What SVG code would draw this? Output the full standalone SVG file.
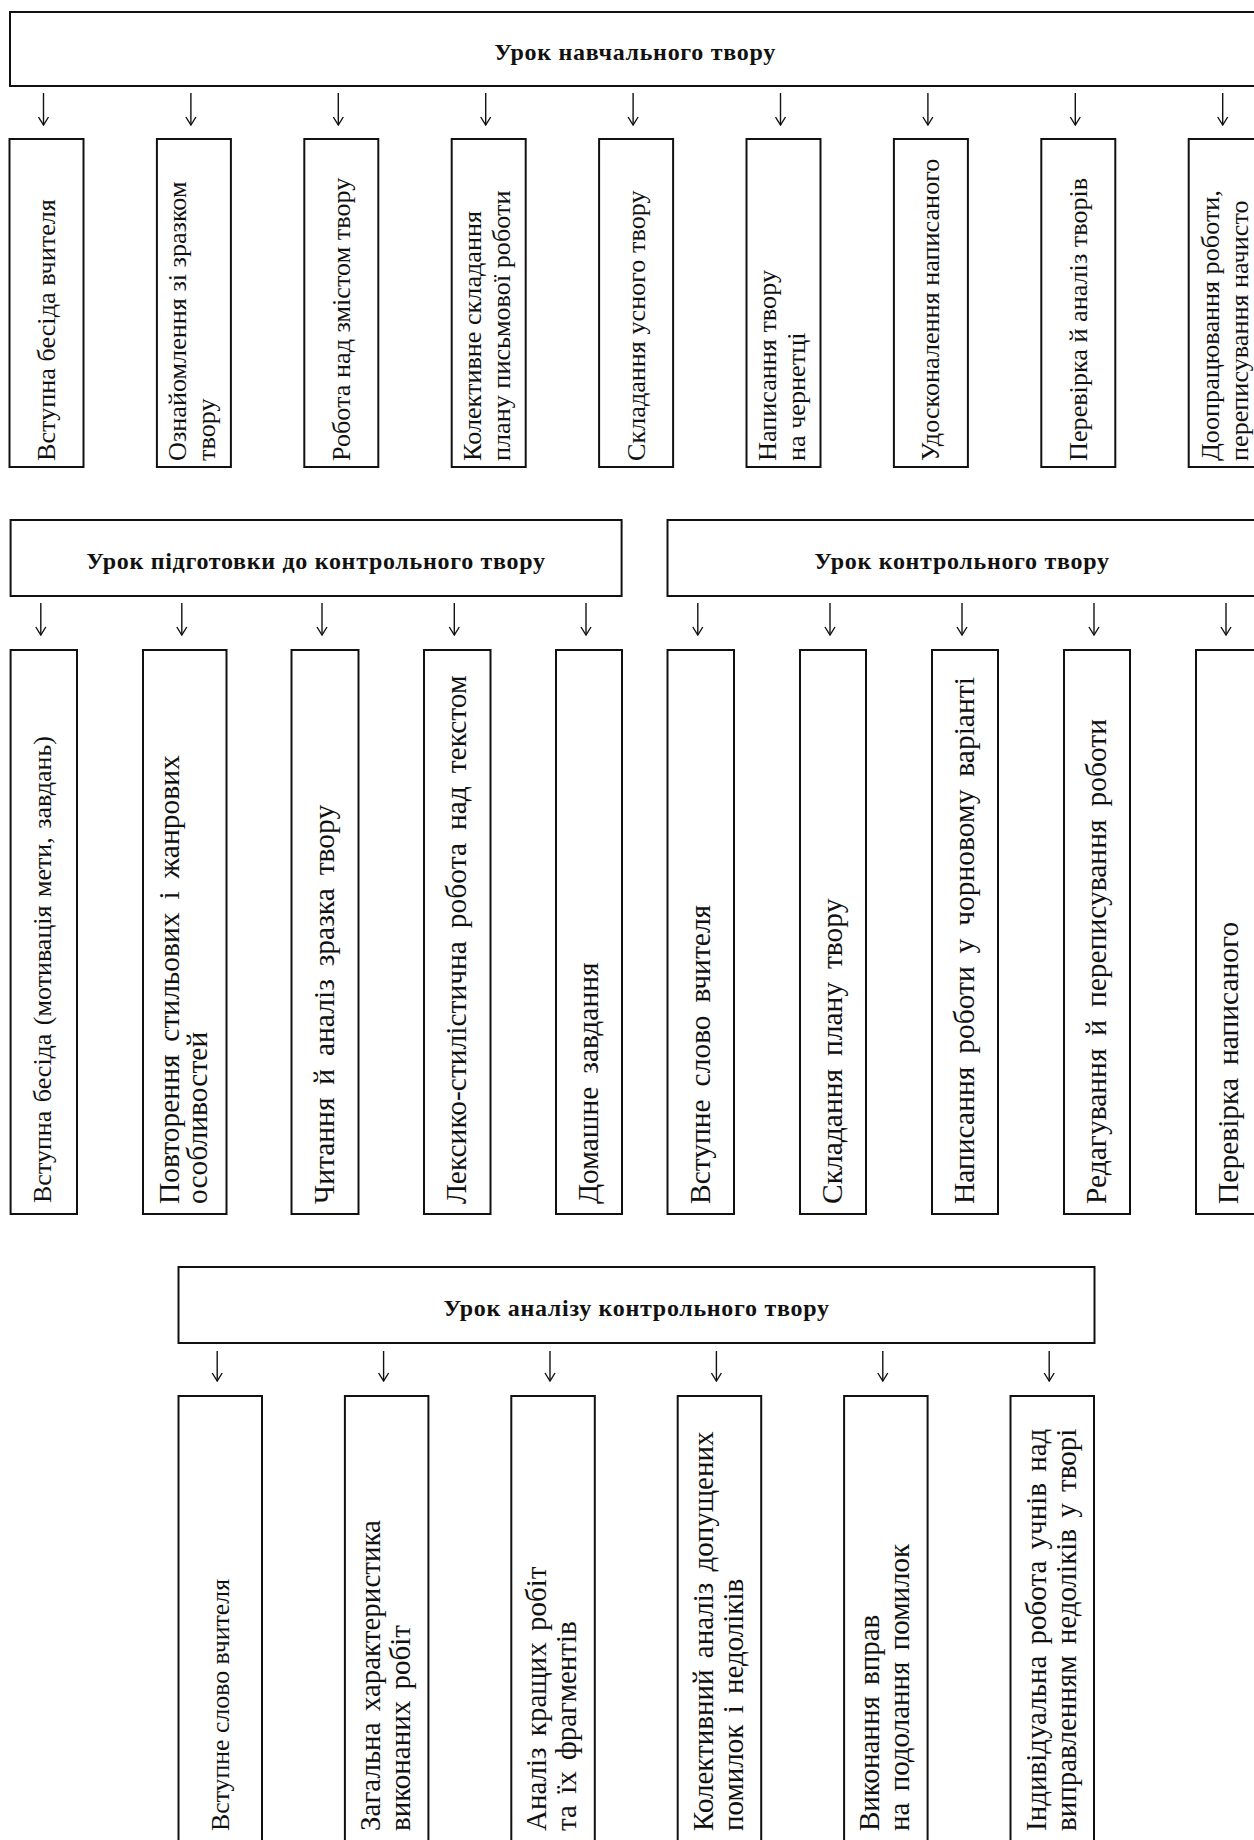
<svg xmlns="http://www.w3.org/2000/svg" width="1254" height="1840" viewBox="0 0 1254 1840">
<style>
.bg{fill:#fff}
.box{fill:#fff;stroke:#111;stroke-width:2}
.arr{stroke:#111;stroke-width:1.4;fill:none}
text{font-family:"Liberation Serif","Times New Roman",serif;fill:#111}
.hd{font-weight:bold;font-size:24px;letter-spacing:0.7px;text-anchor:middle}
.t1{font-size:26.2px}
.t2{font-size:29.5px;word-spacing:5.5px}
.t3{font-size:29px;word-spacing:4px}
.t0{font-size:26px;word-spacing:2px}
.ts{font-size:25.8px}
</style>
<defs>
<marker id="ah" viewBox="-1 -6 10 12" refX="8" refY="0" markerWidth="10" markerHeight="12" markerUnits="userSpaceOnUse" orient="auto">
<path d="M0,-5 L8,0 L0,5" fill="none" stroke="#111" stroke-width="1.4"/>
</marker>
</defs>
<rect class="bg" x="0" y="0" width="1254" height="1840"/>

<!-- Section 1 -->
<g id="h1"><rect class="box" x="10" y="12" width="1250" height="74"/><text class="hd" x="635" y="59.5">Урок навчального твору</text></g>
<g id="n1_1"><rect class="box" x="9.5" y="139" width="74" height="328"/><text class="t1" transform="translate(55,461) rotate(-90)">Вступна бесіда вчителя</text></g>
<g id="n1_2"><rect class="box" x="156.9" y="139" width="74" height="328"/><text class="t1" transform="translate(186.4,461) rotate(-90)"><tspan x="0" y="0">Ознайомлення зі зразком</tspan><tspan x="0" y="28.5">твору</tspan></text></g>
<g id="n1_3"><rect class="box" x="304.3" y="139" width="74" height="328"/><text class="t1" transform="translate(349.8,461) rotate(-90)">Робота над змістом твору</text></g>
<g id="n1_4"><rect class="box" x="451.7" y="139" width="74" height="328"/><text class="t1" transform="translate(481.2,461) rotate(-90)"><tspan x="0" y="0">Колективне складання</tspan><tspan x="0" y="28.5">плану письмової роботи</tspan></text></g>
<g id="n1_5"><rect class="box" x="599.1" y="139" width="74" height="328"/><text class="t1" transform="translate(644.6,461) rotate(-90)">Складання усного твору</text></g>
<g id="n1_6"><rect class="box" x="746.5" y="139" width="74" height="328"/><text class="t1" transform="translate(776,461) rotate(-90)"><tspan x="0" y="0">Написання твору</tspan><tspan x="0" y="28.5">на чернетці</tspan></text></g>
<g id="n1_7"><rect class="box" x="893.9" y="139" width="74" height="328"/><text class="t1" transform="translate(939.4,461) rotate(-90)">Удосконалення написаного</text></g>
<g id="n1_8"><rect class="box" x="1041.3" y="139" width="74" height="328"/><text class="t1" transform="translate(1086.8,461) rotate(-90)">Перевірка й аналіз творів</text></g>
<g id="n1_9"><rect class="box" x="1188.7" y="139" width="74" height="328"/><text class="t1" transform="translate(1219.2,461) rotate(-90)"><tspan x="0" y="0">Доопрацювання роботи,</tspan><tspan x="0" y="28.5">переписування начисто</tspan></text></g>

<!-- Section 2 -->
<g id="h2a"><rect class="box" x="10.6" y="520" width="611" height="76"/><text class="hd" x="316" y="568.5">Урок підготовки до контрольного твору</text></g>
<g id="h2b"><rect class="box" x="667.5" y="520" width="592" height="76"/><text class="hd" x="962" y="568.5">Урок контрольного твору</text></g>
<g id="n2_1"><rect class="box" x="10.6" y="650" width="66.4" height="564"/><text class="t0" transform="translate(50.5,1203) rotate(-90)">Вступна бесіда (мотивація мети, завдань)</text></g>
<g id="n2_2"><rect class="box" x="143" y="650" width="83.5" height="564"/><text class="t2" transform="translate(178.5,1204) rotate(-90)"><tspan x="0" y="0">Повторення стильових і жанрових</tspan><tspan x="0" y="28.5">особливостей</tspan></text></g>
<g id="n2_3"><rect class="box" x="291.5" y="650" width="67" height="564"/><text class="t2" transform="translate(333.5,1204) rotate(-90)">Читання й аналіз зразка твору</text></g>
<g id="n2_4"><rect class="box" x="424" y="650" width="66.5" height="564"/><text class="t2" transform="translate(466,1204) rotate(-90)">Лексико-стилістична робота над текстом</text></g>
<g id="n2_5"><rect class="box" x="556" y="650" width="66" height="564"/><text class="t2" transform="translate(598,1204) rotate(-90)">Домашне завдання</text></g>
<g id="n2_6"><rect class="box" x="667.5" y="650" width="66.5" height="564"/><text class="t2" transform="translate(710,1204) rotate(-90)">Вступне слово вчителя</text></g>
<g id="n2_7"><rect class="box" x="800" y="650" width="66" height="564"/><text class="t2" transform="translate(842,1204) rotate(-90)">Складання плану твору</text></g>
<g id="n2_8"><rect class="box" x="932" y="650" width="66" height="564"/><text class="t2" transform="translate(974,1204) rotate(-90)">Написання роботи у чорновому варіанті</text></g>
<g id="n2_9"><rect class="box" x="1064" y="650" width="66" height="564"/><text class="t2" transform="translate(1106,1204) rotate(-90)">Редагування й переписування роботи</text></g>
<g id="n2_10"><rect class="box" x="1196" y="650" width="66" height="564"/><text class="t2" transform="translate(1238,1204) rotate(-90)">Перевірка написаного</text></g>

<!-- Section 3 -->
<g id="h3"><rect class="box" x="178.5" y="1267" width="916" height="76"/><text class="hd" x="636.5" y="1315.5">Урок аналізу контрольного твору</text></g>
<g id="n3_1"><rect class="box" x="178.5" y="1396" width="83.5" height="470"/><text class="ts" transform="translate(228.5,1831) rotate(-90)">Вступне слово вчителя</text></g>
<g id="n3_2"><rect class="box" x="344.9" y="1396" width="83.5" height="470"/><text class="t3" transform="translate(379.5,1831) rotate(-90)"><tspan x="0" y="0">Загальна характеристика</tspan><tspan x="0" y="30">виконаних робіт</tspan></text></g>
<g id="n3_3"><rect class="box" x="511.3" y="1396" width="83.5" height="470"/><text class="t3" transform="translate(546,1831) rotate(-90)"><tspan x="0" y="0">Аналіз кращих робіт</tspan><tspan x="0" y="30">та їх фрагментів</tspan></text></g>
<g id="n3_4"><rect class="box" x="677.7" y="1396" width="83.5" height="470"/><text class="t3" transform="translate(712.5,1831) rotate(-90)"><tspan x="0" y="0">Колективний аналіз допущених</tspan><tspan x="0" y="30">помилок і недоліків</tspan></text></g>
<g id="n3_5"><rect class="box" x="844.1" y="1396" width="83.5" height="470"/><text class="t3" transform="translate(879,1831) rotate(-90)"><tspan x="0" y="0">Виконання вправ</tspan><tspan x="0" y="30">на подолання помилок</tspan></text></g>
<g id="n3_6"><rect class="box" x="1010.5" y="1396" width="83.5" height="470"/><text class="t3" transform="translate(1046,1831) rotate(-90)"><tspan x="0" y="0">Індивідуальна робота учнів над</tspan><tspan x="0" y="30">виправленням недоліків у творі</tspan></text></g>

<g id="connectors" class="arr" marker-end="url(#ah)">
<line x1="43.5" y1="93" x2="43.5" y2="125"/>
<line x1="190.9" y1="93" x2="190.9" y2="125"/>
<line x1="338.3" y1="93" x2="338.3" y2="125"/>
<line x1="485.7" y1="93" x2="485.7" y2="125"/>
<line x1="633.1" y1="93" x2="633.1" y2="125"/>
<line x1="780.5" y1="93" x2="780.5" y2="125"/>
<line x1="927.9" y1="93" x2="927.9" y2="125"/>
<line x1="1075.3" y1="93" x2="1075.3" y2="125"/>
<line x1="1222.7" y1="93" x2="1222.7" y2="125"/>
<line x1="40.8" y1="603" x2="40.8" y2="635"/>
<line x1="181.8" y1="603" x2="181.8" y2="635"/>
<line x1="322" y1="603" x2="322" y2="635"/>
<line x1="454.3" y1="603" x2="454.3" y2="635"/>
<line x1="586" y1="603" x2="586" y2="635"/>
<line x1="697.8" y1="603" x2="697.8" y2="635"/>
<line x1="830" y1="603" x2="830" y2="635"/>
<line x1="962" y1="603" x2="962" y2="635"/>
<line x1="1094" y1="603" x2="1094" y2="635"/>
<line x1="1226" y1="603" x2="1226" y2="635"/>
<line x1="217.2" y1="1351" x2="217.2" y2="1381"/>
<line x1="383.6" y1="1351" x2="383.6" y2="1381"/>
<line x1="550" y1="1351" x2="550" y2="1381"/>
<line x1="716.4" y1="1351" x2="716.4" y2="1381"/>
<line x1="882.8" y1="1351" x2="882.8" y2="1381"/>
<line x1="1049.2" y1="1351" x2="1049.2" y2="1381"/>
</g>
</svg>
